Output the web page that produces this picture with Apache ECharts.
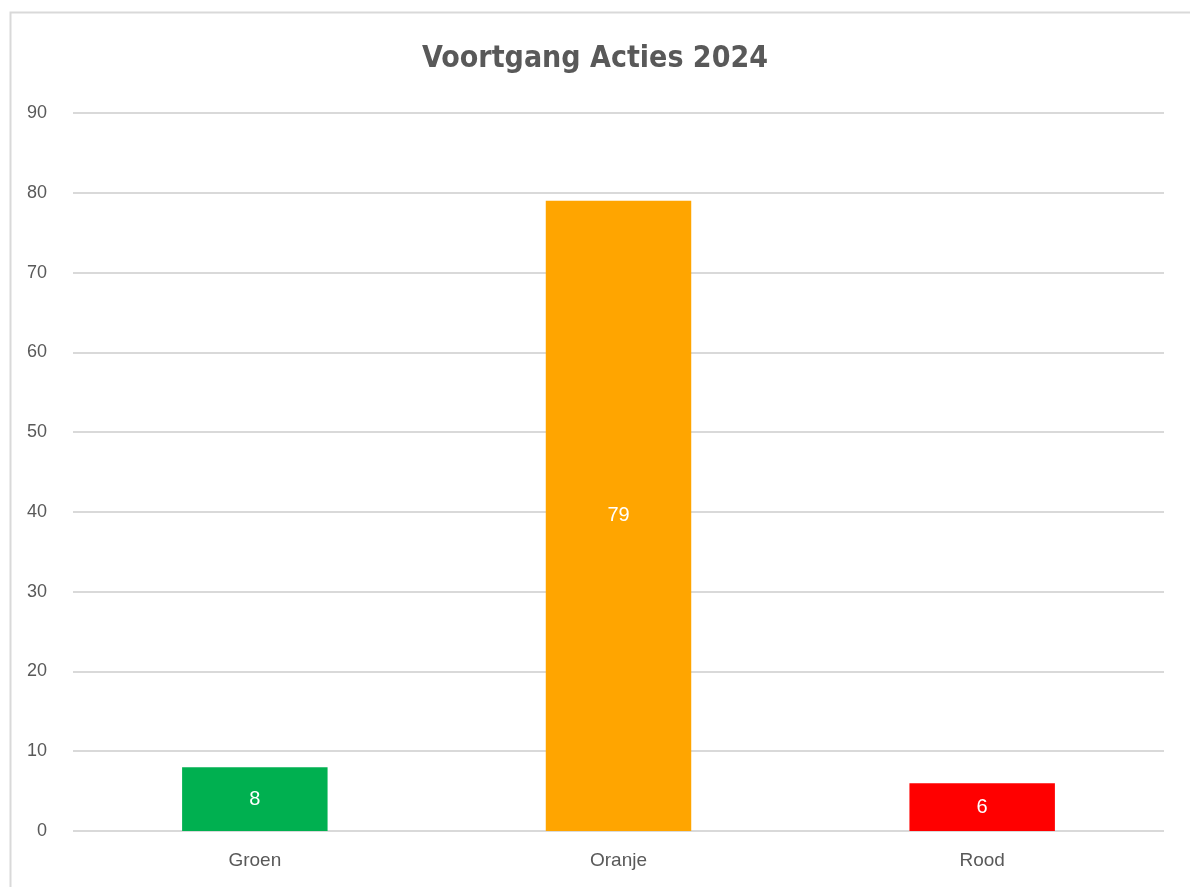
<!DOCTYPE html>
<html><head><meta charset="utf-8">
<script src="https://cdn.jsdelivr.net/npm/echarts@6/dist/echarts.min.js"></script>
<style>html,body{margin:0;padding:0;background:#fff}#c{width:1190px;height:887px}</style>
</head><body><div id="c"></div>
<script>
const categories = ['Groen', 'Oranje', 'Rood'];
const values = [8, 79, 6];
const barColors = ['#00B050', '#FFA500', '#FF0000'];
const yTicks = [0, 10, 20, 30, 40, 50, 60, 70, 80, 90];

const chart = echarts.init(document.getElementById('c'));
chart.setOption({
  backgroundColor: '#fff',
  animation: false,
  title: {
    text: 'Voortgang Acties 2024',
    left: 'center', top: 39,
    textStyle: { fontFamily: '"DejaVu Sans Condensed", "Roboto Condensed", Roboto, sans-serif', fontSize: 30, fontWeight: 'bold', color: '#595959' }
  },
  graphic: [{
    type: 'rect', shape: { x: 10.5, y: 12.5, width: 1200, height: 900 },
    style: { fill: 'none', stroke: '#d9d9d9', lineWidth: 2 }, silent: true, z: -1
  }],
  grid: { left: 73, right: 26, top: 113, bottom: 56 },
  xAxis: {
    type: 'category', data: categories,
    axisLine: { show: false }, axisTick: { show: false },
    axisLabel: { color: '#595959', fontSize: 19, margin: 20, fontFamily: 'Liberation Sans' }
  },
  yAxis: {
    type: 'value', min: yTicks[0], max: yTicks[yTicks.length - 1], interval: 10,
    axisLine: { show: false }, axisTick: { show: false },
    axisLabel: { color: '#595959', fontSize: 18, margin: 26, fontFamily: 'Liberation Sans', align: 'right' },
    splitLine: { lineStyle: { color: '#d9d9d9', width: 2 } }
  },
  series: [{
    type: 'bar', barWidth: '40%',
    data: values.map((v, i) => ({ value: v, itemStyle: { color: barColors[i] } })),
    label: { show: true, position: 'inside', color: '#fff', fontSize: 20, fontFamily: 'Liberation Sans' }
  }]
});
</script></body></html>
